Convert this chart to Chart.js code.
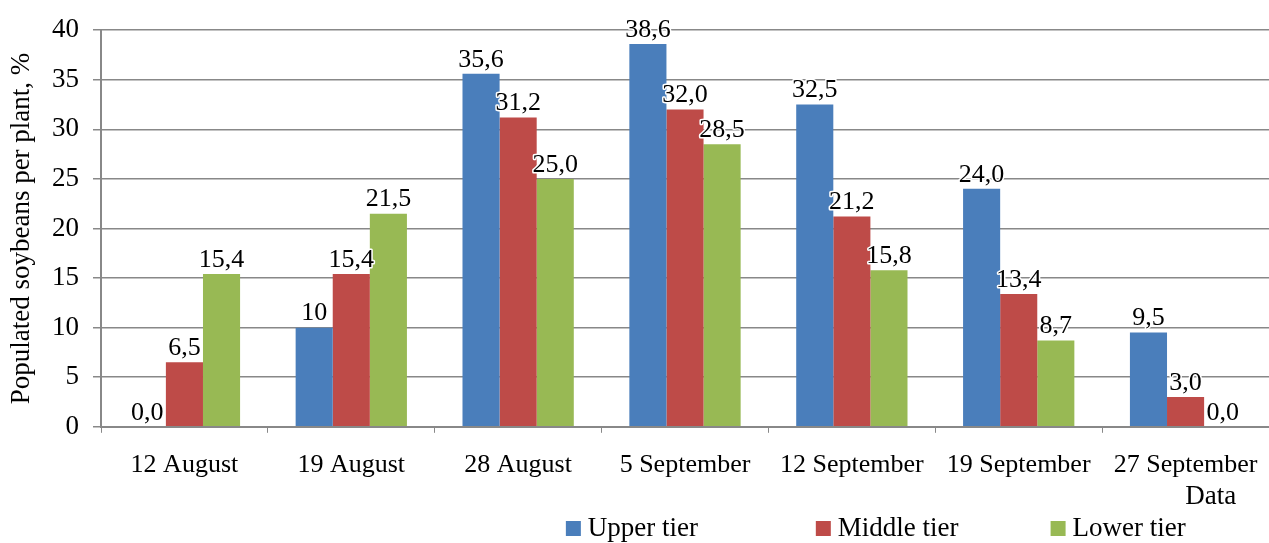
<!DOCTYPE html>
<html>
<head>
<meta charset="utf-8">
<script src="https://cdn.jsdelivr.net/npm/chart.js@4/dist/chart.umd.min.js"></script>
<style>
  html, body { margin: 0; padding: 0; background: #fff; }
  #wrap { width: 1269px; height: 543px; }
</style>
</head>
<body>
<div id="wrap"><canvas id="chart" width="1269" height="543"></canvas></div>
<script>
// Data
const dates = ['12 August', '19 August', '28 August', '5 September', '12 September', '19 September', '27 September'];
const upperTier = [0.0, 10, 35.6, 38.6, 32.5, 24.0, 9.5];
const middleTier = [6.5, 15.4, 31.2, 32.0, 21.2, 13.4, 3.0];
const lowerTier = [15.4, 21.5, 25.0, 28.5, 15.8, 8.7, 0.0];
const upperLabels = ['0,0', '10', '35,6', '38,6', '32,5', '24,0', '9,5'];
const middleLabels = ['6,5', '15,4', '31,2', '32,0', '21,2', '13,4', '3,0'];
const lowerLabels = ['15,4', '21,5', '25,0', '28,5', '15,8', '8,7', '0,0'];
const yTicks = [0, 5, 10, 15, 20, 25, 30, 35, 40];

const FONT = '"Liberation Serif", "Times New Roman", serif';

// Value labels with white halo
const valueLabels = {
    id: 'valueLabels',
    afterDatasetsDraw(chart) {
        const ctx = chart.ctx;
        ctx.save();
        ctx.font = '26px ' + FONT;
        ctx.textAlign = 'center';
        ctx.textBaseline = 'bottom';
        ctx.lineJoin = 'round';
        chart.data.datasets.forEach((ds, i) => {
            chart.getDatasetMeta(i).data.forEach((bar, j) => {
                const txt = ds.valueText[j];
                ctx.strokeStyle = '#fff';
                ctx.lineWidth = 3;
                ctx.strokeText(txt, bar.x, bar.y - 1);
                ctx.fillStyle = '#000';
                ctx.fillText(txt, bar.x, bar.y - 1);
            });
        });
        ctx.restore();
    }
};

// "Data" axis caption and legend at the bottom
const bottomLegend = {
    id: 'bottomLegend',
    afterDraw(chart) {
        const ctx = chart.ctx, area = chart.chartArea;
        const w = area.right - area.left;
        ctx.save();
        ctx.font = '27px ' + FONT;
        ctx.fillStyle = '#000';
        ctx.textBaseline = 'middle';
        ctx.textAlign = 'right';
        ctx.fillText('Data', area.left + w * 0.972, 497);
        ctx.textAlign = 'left';
        const starts = [0.398, 0.612, 0.813];
        chart.data.datasets.forEach((ds, i) => {
            const x = area.left + w * starts[i];
            ctx.fillStyle = ds.backgroundColor;
            ctx.fillRect(x, 521, 15, 15);
            ctx.fillStyle = '#000';
            ctx.fillText(ds.label, x + 22, 529);
        });
        ctx.restore();
    }
};

new Chart(document.getElementById('chart'), {
    type: 'bar',
    data: {
        labels: dates,
        datasets: [
            { label: 'Upper tier', data: upperTier, valueText: upperLabels, backgroundColor: '#4a7ebb' },
            { label: 'Middle tier', data: middleTier, valueText: middleLabels, backgroundColor: '#be4b48' },
            { label: 'Lower tier', data: lowerTier, valueText: lowerLabels, backgroundColor: '#98b954' }
        ]
    },
    options: {
        responsive: false,
        animation: false,
        layout: { padding: { top: 18, right: 0, bottom: 45, left: 0 } },
        datasets: { bar: { categoryPercentage: 0.667, barPercentage: 1.0 } },
        plugins: { legend: { display: false }, tooltip: { enabled: false } },
        scales: {
            x: {
                afterFit: axis => { axis.paddingRight = 0; axis.paddingLeft = 0; },
                grid: { drawOnChartArea: false, color: '#888', tickLength: 6, offset: true },
                border: { color: '#888', width: 2 },
                ticks: { color: '#000', font: { family: FONT, size: 26 }, padding: 17, maxRotation: 0 }
            },
            y: {
                min: 0, max: 40,
                afterBuildTicks: axis => { axis.ticks = yTicks.map(v => ({ value: v })); },
                afterFit: axis => { axis.width = 101; },
                grid: { color: '#888', lineWidth: 1.5, tickLength: 8 },
                border: { color: '#888', width: 2 },
                ticks: { color: '#000', font: { family: FONT, size: 27 }, padding: 14 },
                title: { display: true, text: 'Populated soybeans per plant, %', color: '#000', font: { family: FONT, size: 27 }, padding: { top: 6, bottom: 0 } }
            }
        }
    },
    plugins: [valueLabels, bottomLegend]
});
</script>
</body>
</html>
